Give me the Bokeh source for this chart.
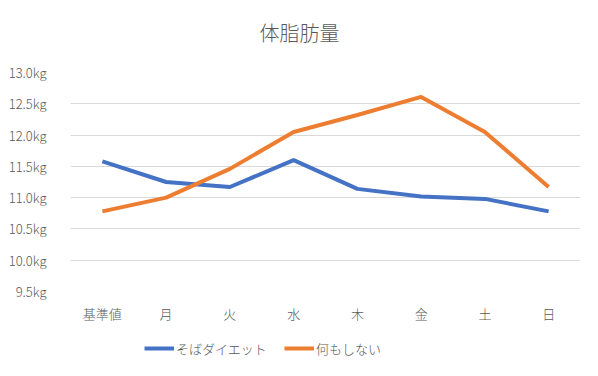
from bokeh.plotting import figure
from bokeh.layouts import column
from bokeh.models import (ColumnDataSource, FactorRange, Range1d, FixedTicker, PrintfTickFormatter,
                          Legend, LegendItem, Label)
from bokeh.embed import file_html
from bokeh.resources import INLINE

title_text = "体脂肪量"
categories = ["基準値", "月", "火", "水", "木", "金", "土", "日"]
soba = [11.58, 11.25, 11.17, 11.60, 11.14, 11.02, 10.98, 10.78]
nothing = [10.78, 11.00, 11.46, 12.05, 12.32, 12.61, 12.05, 11.17]
y_ticks = [9.5, 10.0, 10.5, 11.0, 11.5, 12.0, 12.5, 13.0]
series_names = ["そばダイエット", "何もしない"]
colors = ["#4472C4", "#ED7D31"]

FONT = "Noto Sans CJK JP Light"
GRAY = "#595959"
W = 582
LEFT = 70
RIGHT = 2

src = ColumnDataSource(dict(cat=categories, soba=soba, nothing=nothing))


def blank(height, **kw):
    f = figure(width=W, height=height, output_backend="svg", toolbar_location=None,
               min_border_left=LEFT, min_border_right=RIGHT, min_border_top=0, min_border_bottom=0, **kw)
    f.axis.visible = False
    f.grid.visible = False
    f.outline_line_color = None
    f.border_fill_color = "white"
    f.background_fill_color = "white"
    return f


# header with title
HDR_H = 52
hdr = blank(HDR_H, x_range=Range1d(0, 1), y_range=Range1d(0, 1))
hdr.add_layout(Label(x=299 - LEFT, y=HDR_H - 32, x_units="screen", y_units="screen", text=title_text,
                     text_align="center", text_baseline="middle", text_font=FONT,
                     text_font_size="20px", text_color=GRAY))

# main chart
p = figure(width=W, height=330 - HDR_H, x_range=FactorRange(*categories, range_padding=0),
           y_range=Range1d(9.5, 13.0), output_backend="svg", toolbar_location=None,
           min_border_left=LEFT, min_border_right=RIGHT, min_border_top=72 - HDR_H, min_border_bottom=39)
p.outline_line_color = None
p.background_fill_color = "white"
p.border_fill_color = "white"
p.xgrid.grid_line_color = None
p.ygrid.grid_line_color = "#D9D9D9"
p.ygrid.grid_line_width = 1

p.yaxis.ticker = FixedTicker(ticks=y_ticks)
p.yaxis.formatter = PrintfTickFormatter(format="%.1fkg")
for ax in (p.xaxis, p.yaxis):
    ax.axis_line_color = None
    ax.major_tick_line_color = None
    ax.minor_tick_line_color = None
    ax.major_label_text_font = FONT
    ax.major_label_text_font_size = "13px"
    ax.major_label_text_color = GRAY
p.yaxis.major_label_standoff = 18
p.xaxis.major_label_standoff = 6

p.line("cat", "soba", source=src, line_color=colors[0], line_width=4)
p.line("cat", "nothing", source=src, line_color=colors[1], line_width=4)

# legend strip (same series, drawn outside its visible range so only the legend shows)
lg = blank(30, x_range=FactorRange(*categories), y_range=Range1d(0, 1))
lr1 = lg.line("cat", "soba", source=src, line_color=colors[0], line_width=4)
lr2 = lg.line("cat", "nothing", source=src, line_color=colors[1], line_width=4)
legend = Legend(items=[LegendItem(label=series_names[0], renderers=[lr1]),
                       LegendItem(label=series_names[1], renderers=[lr2])],
                orientation="horizontal", location=(144 - LEFT, 2))
legend.border_line_color = None
legend.background_fill_alpha = 0
legend.label_text_font = FONT
legend.label_text_font_size = "13px"
legend.label_text_color = GRAY
legend.glyph_width = 30
legend.glyph_height = 20
legend.label_standoff = 2
legend.spacing = 17
legend.margin = 0
legend.padding = 0
lg.add_layout(legend, "center")

layout = column(hdr, p, lg, spacing=0)
open("out.html", "w").write(file_html(layout, INLINE))
